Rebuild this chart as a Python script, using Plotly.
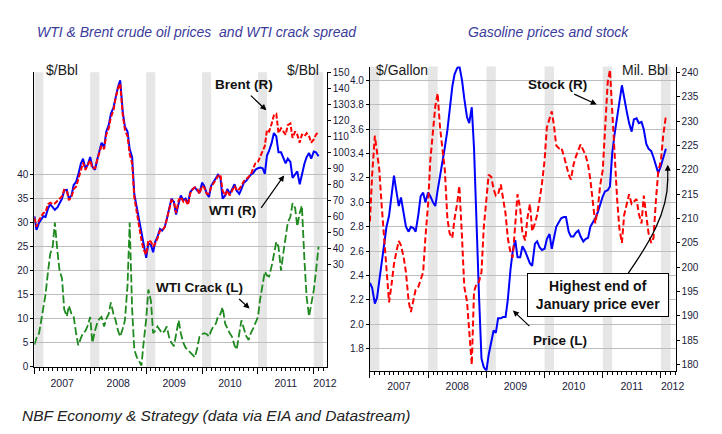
import plotly.graph_objects as go

# ---------------- data (semi-monthly: 1st and 15th of each month) ----------------
dates = []
for yr in range(2007, 2012):
    for mo in range(1, 13):
        dates += [f"{yr}-{mo:02d}-01", f"{yr}-{mo:02d}-15"]
dates += ["2012-01-01", "2012-01-15", "2012-02-01"]

wti = [60.0, 51.5, 56.0, 58.5, 60.0, 59.5, 65.0, 67.5, 65.5, 64.0, 65.5, 68.0, 71.0, 76.0, 76.5, 71.0, 73.0, 79.5, 81.5, 86.0, 93.0, 96.0, 90.0, 92.0,
       97.0, 91.0, 89.0, 95.0, 101.0, 106.0, 103.0, 113.0, 117.0, 124.0, 128.0, 134.5, 141.0, 145.0, 125.0, 116.0, 113.0, 102.0, 97.0, 74.0, 65.0, 57.0, 50.0, 41.0,
       34.0, 43.0, 42.0, 37.5, 44.0, 47.0, 52.0, 51.0, 53.0, 58.0, 66.0, 71.0, 69.0, 61.0, 68.0, 73.0, 70.0, 71.0, 68.0, 75.0, 77.0, 78.0, 76.0, 74.5,
       81.0, 79.0, 74.0, 72.0, 79.0, 81.0, 84.0, 86.0, 84.0, 71.0, 73.0, 77.0, 74.0, 77.0, 80.0, 76.0, 74.0, 77.0, 81.0, 82.0, 84.0, 86.0, 87.0, 89.0,
       90.0, 90.5, 90.0, 86.5, 98.0, 101.0, 106.0, 112.0, 110.0, 100.0, 100.0, 97.0, 93.0, 96.0, 94.0, 84.0, 86.0, 88.0, 80.0, 86.0, 93.0, 97.0, 99.5, 96.0,
       100.5, 100.0, 97.5]

brent = [59.0, 53.5, 57.5, 59.5, 62.0, 62.5, 67.5, 68.5, 67.5, 68.0, 69.5, 71.0, 72.5, 76.5, 76.0, 70.0, 72.0, 77.0, 78.5, 83.0, 89.0, 93.5, 89.0, 92.0,
         95.0, 90.0, 90.0, 95.0, 100.0, 104.0, 102.0, 111.0, 115.0, 122.0, 126.0, 134.0, 140.0, 143.0, 123.0, 114.0, 110.0, 99.0, 93.0, 72.0, 62.0, 53.0, 45.0, 39.0,
         36.0, 45.0, 44.0, 41.0, 43.0, 46.0, 51.0, 51.0, 53.0, 58.0, 65.0, 70.0, 69.0, 62.0, 70.0, 72.0, 69.0, 70.0, 67.0, 74.0, 77.0, 78.0, 77.0, 74.0,
         79.0, 78.0, 74.0, 74.0, 78.0, 80.0, 83.0, 85.0, 86.0, 76.0, 73.0, 76.0, 73.0, 76.0, 79.0, 76.0, 77.0, 79.0, 82.0, 83.0, 85.0, 86.0, 90.0, 93.0,
         94.0, 97.0, 101.0, 104.0, 114.0, 113.0, 118.0, 123.0, 124.0, 112.0, 115.0, 113.0, 111.0, 117.0, 118.0, 109.0, 113.0, 111.0, 106.0, 111.0, 110.0, 112.0, 110.0, 106.0,
         108.0, 111.0, 113.0]

crack = [4.6, 6.0, 7.0, 10.0, 12.5, 15.0, 20.0, 23.5, 25.0, 30.0, 24.0, 20.0, 18.4, 12.0, 10.5, 12.7, 11.0, 10.4, 7.0, 4.5, 6.0, 7.0, 7.5, 8.5,
         10.4, 5.0, 7.5, 9.0, 10.0, 10.4, 8.4, 10.0, 11.0, 13.4, 11.0, 9.7, 7.5, 6.3, 8.0, 9.7, 17.0, 30.0, 12.0, 3.6, 2.0, 1.2, 0.3, 5.0,
         10.0, 16.1, 13.7, 7.0, 7.5, 8.4, 7.5, 7.0, 7.5, 8.4, 6.0, 5.0, 4.3, 7.0, 9.7, 7.0, 5.0, 4.0, 3.5, 3.0, 2.5, 2.0, 4.0, 6.3,
         6.8, 7.0, 6.8, 6.3, 7.5, 8.4, 9.0, 10.5, 11.0, 12.4, 9.0, 8.0, 7.0, 6.3, 4.5, 3.6, 6.5, 9.7, 8.0, 6.5, 5.6, 7.0, 8.0, 9.0,
         10.4, 14.0, 17.5, 19.8, 19.0, 18.8, 21.0, 23.2, 26.0, 25.0, 20.0, 23.5, 27.0, 30.0, 31.2, 34.0, 33.0, 29.2, 32.0, 33.5, 22.0, 14.5, 10.5, 13.0,
         16.0, 19.8, 25.0]

gas_price = [2.34, 2.30, 2.17, 2.22, 2.36, 2.50, 2.65, 2.80, 2.89, 3.05, 3.22, 3.10, 2.97, 3.04, 2.90, 2.80, 2.76, 2.80, 2.79, 2.76, 2.90, 3.05, 3.08, 3.00,
             3.08, 3.05, 3.00, 2.97, 3.10, 3.20, 3.32, 3.45, 3.59, 3.78, 3.95, 4.05, 4.10, 4.12, 4.00, 3.85, 3.70, 3.65, 3.78, 3.45, 2.75, 2.25, 1.72, 1.65,
             1.62, 1.75, 1.86, 1.95, 1.93, 2.05, 2.05, 2.06, 2.06, 2.20, 2.45, 2.60, 2.69, 2.55, 2.55, 2.64, 2.60, 2.55, 2.50, 2.48, 2.66, 2.68, 2.63, 2.61,
             2.62, 2.70, 2.74, 2.62, 2.70, 2.80, 2.84, 2.87, 2.88, 2.88, 2.76, 2.72, 2.72, 2.75, 2.77, 2.72, 2.68, 2.70, 2.71, 2.80, 2.84, 2.87, 2.92, 2.98,
             3.05, 3.09, 3.10, 3.13, 3.40, 3.55, 3.72, 3.82, 3.96, 3.85, 3.74, 3.65, 3.58, 3.68, 3.69, 3.65, 3.66, 3.60, 3.48, 3.44, 3.42, 3.37, 3.30, 3.24,
             3.30, 3.36, 3.44]

gas_stock = [209.4, 219.0, 227.0, 224.0, 220.0, 213.0, 205.4, 198.0, 192.8, 196.0, 200.7, 203.0, 205.4, 204.5, 202.0, 199.0, 193.0, 190.8, 193.0, 195.4, 196.0, 197.5, 199.0, 206.0,
             213.0, 222.0, 229.0, 233.0, 235.7, 229.0, 224.0, 220.0, 210.0, 207.0, 206.0, 210.0, 213.0, 216.7, 206.0, 196.0, 193.0, 186.0, 180.0, 195.0, 196.7, 197.0, 199.0, 208.0,
             214.0, 219.0, 218.5, 216.0, 214.7, 215.0, 217.0, 214.0, 211.0, 206.0, 203.0, 202.0, 208.0, 215.0, 212.0, 207.0, 205.5, 210.0, 213.0, 207.4, 209.0, 210.7, 214.0, 217.0,
             222.0, 228.7, 230.5, 232.0, 229.0, 225.0, 224.4, 224.6, 223.0, 221.0, 219.0, 218.0, 221.0, 222.6, 224.0, 225.2, 224.0, 223.0, 221.0, 218.0, 213.0, 209.0, 212.0, 216.7,
             220.0, 228.0, 238.0, 240.5, 232.0, 222.0, 214.0, 208.0, 205.0, 210.7, 213.0, 215.0, 213.0, 213.5, 214.0, 211.0, 209.0, 214.7, 211.0, 207.0, 205.0, 206.0, 214.0, 219.6,
             222.0, 227.0, 231.0]

year_bounds = ["2007-01-01", "2008-01-01", "2009-01-01", "2010-01-01", "2011-01-01", "2012-01-01"]
year_label_pos = ["2007-07-02", "2008-07-02", "2009-07-02", "2010-07-02", "2011-07-02", "2012-03-14"]
year_labels = ["2007", "2008", "2009", "2010", "2011", "2012"]
band_years = [2007, 2008, 2009, 2010, 2011, 2012]

left_ticks = [0, 5, 10, 15, 20, 25, 30, 35, 40]
right_ticks_oil = [30, 40, 50, 60, 70, 80, 90, 100, 110, 120, 130, 140, 150]
gal_ticks = [1.8, 2.0, 2.2, 2.4, 2.6, 2.8, 3.0, 3.2, 3.4, 3.6, 3.8, 4.0]
bbl_ticks = [180, 185, 190, 195, 200, 205, 210, 215, 220, 225, 230, 235, 240]

# ---------------- styling ----------------
W, H = 722, 434
SANS = "Liberation Sans, Arial, sans-serif"
TICKFONT = dict(family=SANS, size=10, color="#1a1a3a")
YEARFONT = dict(family=SANS, size=10.5, color="#1a1a3a")

def P(px, py):
    return px / W, 1 - py / H

fig = go.Figure()
fig.add_trace(go.Scatter(x=dates, y=crack, xaxis="x", yaxis="y", mode="lines",
                         line=dict(color="#1f8a1f", width=1.8, dash="8px,3px")))
fig.add_trace(go.Scatter(x=dates, y=wti, xaxis="x", yaxis="y2", mode="lines",
                         line=dict(color="#0000ff", width=2)))
fig.add_trace(go.Scatter(x=dates, y=brent, xaxis="x", yaxis="y2", mode="lines",
                         line=dict(color="#ff0000", width=2, dash="5px,2px")))
fig.add_trace(go.Scatter(x=dates, y=gas_price, xaxis="x2", yaxis="y3", mode="lines",
                         line=dict(color="#0000ff", width=2)))
fig.add_trace(go.Scatter(x=dates, y=gas_stock, xaxis="x2", yaxis="y4", mode="lines",
                         line=dict(color="#ff0000", width=2, dash="6px,3px")))
# empty traces so the year-label axes exist
fig.add_trace(go.Scatter(x=[], y=[], xaxis="x3", yaxis="y", showlegend=False))
fig.add_trace(go.Scatter(x=[], y=[], xaxis="x4", yaxis="y3", showlegend=False))

L_RANGE = ["2007-01-01", "2012-03-26"]
R_RANGE = ["2007-01-01", "2012-04-02"]
L_DOM = [26.7 / W, 323.3 / W]
R_DOM = [367 / W, 677 / W]
L_YDOM = [1 - 363 / H, 1 - 60 / H]
R_YDOM = [1 - 367 / H, 1 - 54 / H]

def xbase(dom, rng, anchor):
    return dict(domain=dom, anchor=anchor, type="date", range=rng, tickmode="array",
                tickvals=year_bounds, ticktext=[""] * len(year_bounds), ticks="outside",
                ticklen=6, tickcolor="black", tickwidth=1, showline=True, linecolor="black",
                linewidth=1, showgrid=False, zeroline=False, fixedrange=True,
                minor=dict(tickmode="linear", tick0="2007-01-01", dtick="M1", ticks="outside",
                           ticklen=3, tickcolor="black", tickwidth=1, showgrid=False))

def xlabels(over, rng, anchor):
    return dict(overlaying=over, anchor=anchor, side="bottom", type="date", range=rng,
                tickmode="array", tickvals=year_label_pos, ticktext=year_labels,
                ticks="outside", ticklen=6, tickcolor="rgba(0,0,0,0)", showline=False,
                showgrid=False, zeroline=False, tickfont=YEARFONT)

yax_common = dict(showline=True, linecolor="black", linewidth=1, ticks="outside", ticklen=3,
                  tickcolor="black", zeroline=False, tickfont=TICKFONT, fixedrange=True)

fig.update_layout(
    width=W, height=H, margin=dict(l=0, r=0, t=0, b=0), showlegend=False,
    paper_bgcolor="white", plot_bgcolor="white",
    xaxis=xbase(L_DOM, L_RANGE, "y"),
    xaxis3=xlabels("x", L_RANGE, "y"),
    xaxis2=xbase(R_DOM, R_RANGE, "y3"),
    xaxis4=xlabels("x2", R_RANGE, "y3"),
    yaxis=dict(domain=L_YDOM, anchor="x", side="left", range=[0, 61.2], tickmode="array",
               tickvals=left_ticks, showgrid=True, gridcolor="#bdbdbd", gridwidth=1, **yax_common),
    yaxis2=dict(overlaying="y", anchor="x", side="right", range=[-34.3, 150], tickmode="array",
                tickvals=right_ticks_oil, showgrid=False, **yax_common),
    yaxis3=dict(domain=R_YDOM, anchor="x2", side="left", range=[1.619, 4.114], tickmode="array",
                tickvals=gal_ticks, tickformat=".1f", showgrid=True, gridcolor="#bdbdbd",
                gridwidth=1, **yax_common),
    yaxis4=dict(overlaying="y3", anchor="x2", side="right", range=[178.74, 241.2], tickmode="array",
                tickvals=bbl_ticks, showgrid=False, **yax_common),
)

# shaded bands (Jan-Feb each year)
shapes = []
for yr in band_years:
    for xr, yr_ref in (("x", "y domain"), ("x2", "y3 domain")):
        shapes.append(dict(type="rect", xref=xr, yref=yr_ref, x0=f"{yr}-01-01", x1=f"{yr}-03-01",
                           y0=0, y1=1, fillcolor="#e6e6e6", line=dict(width=0), layer="below"))

# curved arrow for the box
p0 = P(628, 268); c1 = P(650, 236); c2 = P(669, 205); p3 = P(669, 170)
shapes.append(dict(type="path", xref="paper", yref="paper",
                   path=f"M {p0[0]},{p0[1]} C {c1[0]},{c1[1]} {c2[0]},{c2[1]} {p3[0]},{p3[1]}",
                   line=dict(color="black", width=1.3)))
fig.update_layout(shapes=shapes)

ann = []
def text(px, py, s, size=14, family=SANS, color="#1a1a1a", xanchor="center", bold=False, italic=False):
    x, y = P(px, py)
    if bold:
        s = f"<b>{s}</b>"
    if italic:
        s = f"<i>{s}</i>"
    ann.append(dict(xref="paper", yref="paper", x=x, y=y, text=s, showarrow=False,
                    xanchor=xanchor, yanchor="middle", font=dict(family=family, size=size, color=color)))

def arrow(tx, ty, hx, hy):
    x, y = P(hx, hy)
    ann.append(dict(xref="paper", yref="paper", x=x, y=y, text="", showarrow=True,
                    ax=tx - hx, ay=ty - hy, arrowhead=2, arrowsize=1, arrowwidth=1.2,
                    arrowcolor="black", standoff=0, startstandoff=0))

TITLE_C = "#3b3b9c"
text(192, 18, "WTI & Brent crude oil prices  and WTI crack spread", size=14,
     color=TITLE_C, italic=True)
text(548, 18, "Gasoline prices and stock", size=14, color=TITLE_C, italic=True)
text(36, 58, "$/Bbl", size=14, xanchor="left")
text(317, 58, "$/Bbl", size=14, xanchor="right")
text(371, 58, "$/Gallon", size=14, xanchor="left")
text(671, 58, "Mil. Bbl", size=14, xanchor="right")
text(12, 413, "NBF Economy & Strategy (data via EIA and Datastream)", size=15.5, xanchor="left",
     italic=True, color="#222222")

text(239, 72, "Brent (R)", size=13.5, bold=True, color="#111111")
arrow(245, 83, 262, 99)
text(228, 202, "WTI (R)", size=13.5, bold=True, color="#111111")
arrow(256, 200, 280, 166)
text(194, 281, "WTI Crack (L)", size=13.5, bold=True, color="#111111")
arrow(233, 292, 245, 303)
text(557, 72, "Stock (R)", size=13.5, bold=True, color="#111111")
arrow(573, 82, 597, 93)
text(560, 336, "Price (L)", size=13.5, bold=True, color="#111111")
arrow(530, 322, 512, 305)
arrow(669, 172, 669, 155)

bx, by = P(598, 289)
ann.append(dict(xref="paper", yref="paper", x=bx, y=by, xanchor="center", yanchor="middle",
                text="<b>Highest end of<br>January price ever</b>", showarrow=False,
                font=dict(family=SANS, size=14, color="#111111"), bgcolor="white",
                bordercolor="black", borderwidth=1, borderpad=4, width=132))
fig.update_layout(annotations=ann)

fig.write_html("out.html")
